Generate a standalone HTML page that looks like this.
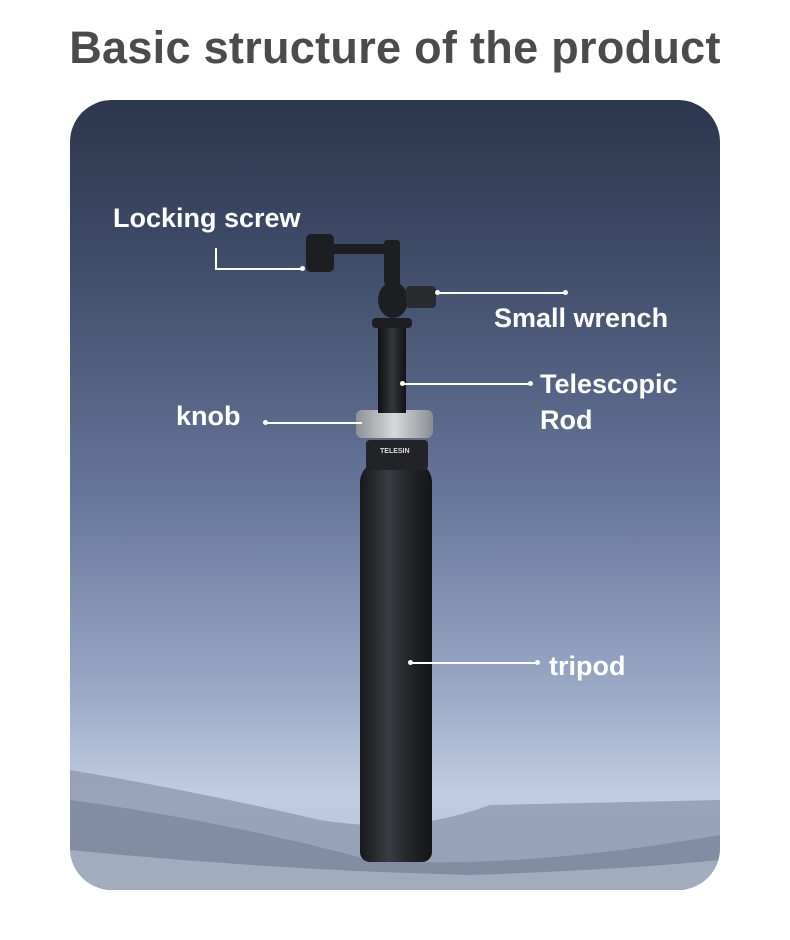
<!DOCTYPE html>
<html><head><meta charset="utf-8"><style>
body{margin:0;width:790px;height:940px;background:#fff;position:relative;overflow:hidden;font-family:"Liberation Sans",sans-serif}
.title{position:absolute;left:0;width:790px;top:22px;text-align:center;font-size:45px;font-weight:bold;color:#4b4b4b;letter-spacing:0.3px}
.card{position:absolute;left:70px;top:100px;width:650px;height:790px;border-radius:42px;overflow:hidden;
background:linear-gradient(180deg,#2c364d 0%,#3f4c68 20%,#66769a 50%,#9aa9c6 75%,#c1cde2 88%,#b0bbcf 100%)}
.lbl{position:absolute;color:#fff;font-size:27px;font-weight:bold;line-height:36px}
.ln{position:absolute;background:#fff;height:1.5px}
.dot{position:absolute;width:5px;height:5px;border-radius:50%;background:#fff}
.dk{position:absolute;background:#1d1e22}
</style></head><body>
<div class="title">Basic structure of the product</div>
<div class="card">
<svg width="650" height="790" style="position:absolute;left:0;top:0">
<path d="M0 670 Q120 690 250 720 Q340 735 420 705 L650 700 L650 790 L0 790Z" fill="#8f9ab0" opacity="0.8"/>
<path d="M0 700 Q150 720 300 760 Q450 770 650 735 L650 790 L0 790Z" fill="#7d889f" opacity="0.8"/>
<path d="M0 750 Q200 770 400 775 Q550 770 650 760 L650 790 L0 790Z" fill="#aab4c6" opacity="0.8"/>
</svg>
</div>
<!-- tripod -->
<div class="dk" style="left:360px;top:462px;width:72px;height:400px;border-radius:20px 20px 10px 10px;background:linear-gradient(90deg,#17181b,#3a3c42 40%,#232428 70%,#141517)"></div>
<div class="dk" style="left:366px;top:440px;width:62px;height:30px;border-radius:4px;background:#222327"></div>
<div style="position:absolute;left:380px;top:448px;font-size:7px;color:#ddd;font-weight:bold">TELESIN</div>
<div class="dk" style="left:356px;top:410px;width:77px;height:28px;border-radius:6px;background:linear-gradient(90deg,#8e9196,#d7d9dc 50%,#8a8d92)"></div>
<div class="dk" style="left:378px;top:325px;width:28px;height:88px;background:linear-gradient(90deg,#0f1012,#34363b 50%,#121316)"></div>
<div class="dk" style="left:372px;top:318px;width:40px;height:10px;border-radius:4px"></div>
<div class="dk" style="left:378px;top:282px;width:30px;height:36px;border-radius:50%"></div>
<div class="dk" style="left:384px;top:240px;width:16px;height:45px;border-radius:3px"></div>
<div class="dk" style="left:330px;top:244px;width:56px;height:10px"></div>
<div class="dk" style="left:306px;top:234px;width:28px;height:38px;border-radius:5px"></div>
<div class="dk" style="left:406px;top:286px;width:30px;height:22px;border-radius:4px;background:#2a2b2f"></div>
<!-- labels -->
<div class="lbl" style="left:113px;top:200px">Locking screw</div>
<div class="ln" style="left:215px;top:248px;width:1.5px;height:20px"></div>
<div class="ln" style="left:215px;top:268px;width:87px"></div>
<div class="dot" style="left:300px;top:266px"></div>
<div class="dot" style="left:435px;top:290px"></div>
<div class="ln" style="left:437px;top:292px;width:128px"></div>
<div class="dot" style="left:563px;top:290px"></div>
<div class="lbl" style="left:494px;top:300px">Small wrench</div>
<div class="dot" style="left:400px;top:381px"></div>
<div class="ln" style="left:402px;top:383px;width:128px"></div>
<div class="dot" style="left:528px;top:381px"></div>
<div class="lbl" style="left:540px;top:366px">Telescopic<br>Rod</div>
<div class="lbl" style="left:176px;top:398px">knob</div>
<div class="dot" style="left:263px;top:420px"></div>
<div class="ln" style="left:265px;top:422px;width:97px"></div>
<div class="dot" style="left:408px;top:660px"></div>
<div class="ln" style="left:410px;top:662px;width:127px"></div>
<div class="dot" style="left:535px;top:660px"></div>
<div class="lbl" style="left:549px;top:648px">tripod</div>
</body></html>
